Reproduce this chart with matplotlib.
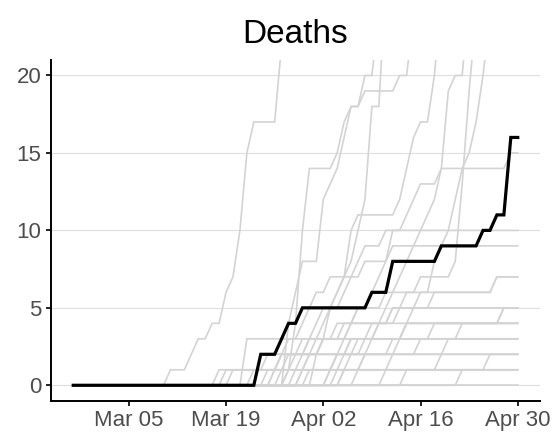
#!/usr/bin/env python3

import numpy as np
import pandas as pd
import matplotlib
matplotlib.use('Agg')
import matplotlib.pyplot as plt
import matplotlib.dates as mdates

plt.rcParams['font.family'] = ['Liberation Sans', 'DejaVu Sans']

# daily cumulative deaths, 2020-02-26 .. 2020-04-30
dates = pd.date_range('2020-02-26', '2020-04-30', freq='D')
tick_dates = pd.to_datetime(['2020-03-05', '2020-03-19', '2020-04-02', '2020-04-16', '2020-04-30'])
y_ticks = [0, 5, 10, 15, 20]

highlight = [0]*27 + [2, 2, 2, 3, 4, 4] + [5]*10 + [6, 6, 6] + [8]*7 + [9]*6 + [10, 10, 11, 11, 16, 16]

# other regions (series stop once they have left the top of the panel)
others = [
    [0]*14 + [1, 1, 1, 2, 3, 3, 4, 4, 6, 7, 10, 15, 17, 17, 17, 17, 22, 27],
    [0]*31 + [4, 6, 8, 8, 8, 12, 13, 14, 16, 18, 18, 19, 19, 19, 19, 19, 20, 20, 24],
    [0]*31 + [1, 4, 10, 14, 14, 14, 14, 15, 17, 18, 18, 20, 20, 24],
    [0]*30 + [1, 1, 2, 2, 3, 4, 5, 5, 6, 7, 8, 10, 12, 18, 18, 26],
    [0]*35 + [2, 3, 5, 6, 7, 10, 11, 11, 11, 11, 11, 11, 12, 14, 16, 17, 17, 20, 25],
    [0]*37 + [1, 2, 3, 4, 5, 5, 6, 7, 8, 10, 10, 11, 12, 13, 13, 13, 14, 14, 14, 14, 14, 14, 14, 14, 14, 14, 15, 15],
    [0]*41 + [1, 2, 3, 4, 5, 6, 7, 8, 9, 10, 11, 12, 14, 19, 20, 20, 25],
    [0]*39 + [1, 2, 2, 3, 3, 4, 4, 5, 5, 6, 6, 7, 7, 7, 7, 7, 8, 13, 19, 24],
    [0]*45 + [1, 2, 3, 4, 5, 6, 6, 8, 9, 10, 12, 14, 15, 17, 20, 24],
    [0]*29 + [1, 2, 3, 3, 4, 5, 6, 6, 7, 7, 7, 7, 7, 8, 8, 8, 8, 9, 9, 9, 9, 9, 9, 9, 9, 9, 9, 9, 9, 9, 9, 9, 9, 9, 9, 9],
    [0]*33 + [1, 2, 3, 4, 5, 5, 6, 7, 8, 9, 9, 9] + [10]*20,
    [0]*32 + [1, 1, 2, 2, 3, 3, 4, 4, 4, 5, 5, 5, 5] + [6]*16 + [7]*4,
    [0]*37 + [1, 2, 2, 3, 3, 3, 4, 4, 4, 4, 5, 5, 5, 5, 5] + [6]*9 + [7]*4,
    [0]*25 + [3]*14 + [4]*7 + [5]*19,
    [0]*21 + [1]*10 + [2]*10 + [3]*7 + [4]*14 + [5]*3,
    [0]*23 + [1]*5 + [2]*12 + [3]*16 + [4]*9,
    [0]*27 + [2]*6 + [3]*15 + [4]*17,
    [0]*28 + [1]*10 + [2]*16 + [3]*11,
    [0]*33 + [1]*6 + [2]*11 + [3]*15,
    [0]*34 + [1]*19 + [2]*12,
    [0]*38 + [1]*22 + [2]*5,
    [0]*48 + [1]*17,
    [0]*56 + [1]*9,
    [0]*29 + [1]*36,
    [0]*22 + [1]*8 + [2]*35,
    [0]*26 + [1]*4 + [2]*4 + [3]*31,
    [0]*39 + [1]*3 + [2]*4 + [3]*6 + [4]*13,
    [0]*31 + [1]*2 + [2]*3 + [3]*4 + [4]*22 + [5]*3,
    [0]*65,
]

fig = plt.figure(figsize=(5.58, 4.38), dpi=100)
ax = fig.add_axes([0.0914, 0.085, 0.8763, 0.778])

for s in others:
    ax.plot(dates[:len(s)], s, color='#d3d3d3', linewidth=1.2, solid_joinstyle='miter')
ax.plot(dates, highlight, color='black', linewidth=2.3, solid_joinstyle='miter', zorder=5)

ax.set_xlim(dates[0] - pd.Timedelta(days=3.2), dates[-1] + pd.Timedelta(days=3.2))
ax.set_ylim(-1, 21)
ax.set_xticks(tick_dates)
ax.xaxis.set_major_formatter(mdates.DateFormatter('%b %d'))
ax.set_yticks(y_ticks)

ax.yaxis.grid(True, color='#dedede', linewidth=0.8)
ax.set_axisbelow(True)
for side in ['top', 'right']:
    ax.spines[side].set_visible(False)
for side in ['left', 'bottom']:
    ax.spines[side].set_linewidth(1.4)
    ax.spines[side].set_color('black')
ax.tick_params(axis='both', length=3.8, width=1.4, color='#222222',
               labelsize=16, labelcolor='#4d4d4d', pad=3)

ax.set_title('Deaths', fontsize=24, pad=12)

plt.savefig('out.png', dpi=100)
